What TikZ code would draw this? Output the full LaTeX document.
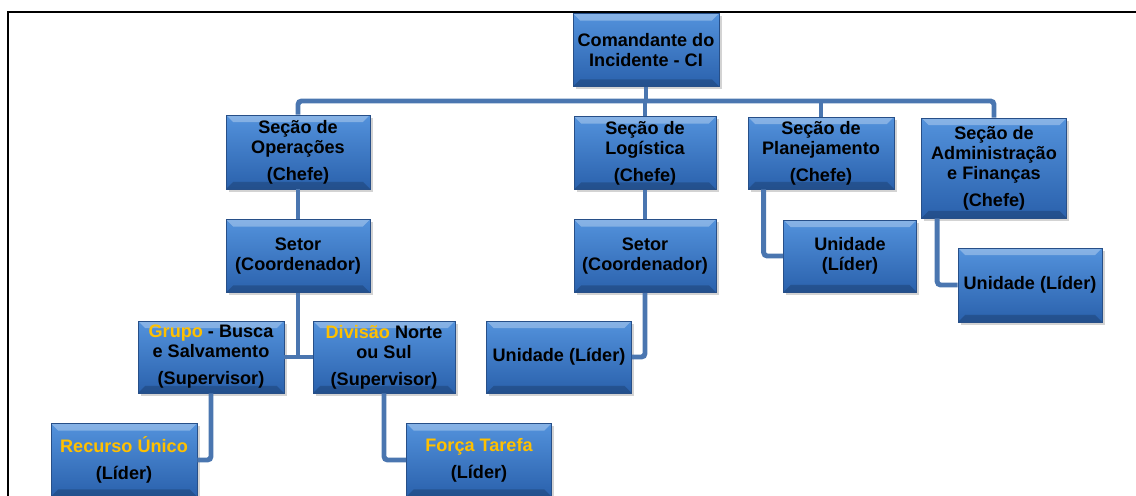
\documentclass[tikz,border=0pt]{standalone}
\usepackage{fontspec}
\setmainfont{Liberation Sans}
\usetikzlibrary{shadows}
\definecolor{boxtop}{HTML}{5392DC}
\definecolor{boxbot}{HTML}{2A61AC}
\definecolor{boxline}{HTML}{274F88}
\definecolor{linkblue}{HTML}{4A76B0}
\definecolor{gold}{HTML}{FFC000}
\begin{document}
\begin{tikzpicture}[x=0.02cm,y=-0.02cm]
        \tikzset{
          orgbox/.style={draw=boxline,line width=0.4pt,top color=boxtop,bottom color=boxbot,
            align=center,inner sep=1pt,
            font=\fontsize{10.3}{11.4}\selectfont\bfseries,
            drop shadow={shadow xshift=1.5pt,shadow yshift=-1.5pt,opacity=.35},
            path picture={
              \path (path picture bounding box.north west) coordinate (bnw)
                    (path picture bounding box.south east) coordinate (bse);
              \fill[white,opacity=.3] (bnw) -- (bnw -| bse) -- ++(-4pt,-4pt) -- ([shift={(4pt,-4pt)}]bnw) -- cycle;
              \fill[black,opacity=.18] (bse) -- (bse -| bnw) -- ++(4pt,4pt) -- ([shift={(-4pt,4pt)}]bse) -- cycle;
            }},
          link/.style={linkblue,line width=2.8pt,rounded corners=2pt},
        }
        \useasboundingbox (0,0) rectangle (1136,496);
        \clip (0,0) rectangle (1136,496);

        %FRAME
        \draw[line width=1.2pt] (8,496) -- (8,12) -- (1136,12);

        %TOP
        \node[orgbox,minimum width=2.92cm,minimum height=1.46cm] (ci) at (646,50) {Comandante do\\Incidente - CI};

        %SECTIONS
        \node[orgbox,minimum width=2.88cm,minimum height=1.48cm] (ops) at (298,152) {Seção de\\Operações\\[4pt](Chefe)};
        \node[orgbox,minimum width=2.84cm,minimum height=1.46cm] (log) at (645,153) {Seção de\\Logística\\[4pt](Chefe)};
        \node[orgbox,minimum width=2.92cm,minimum height=1.44cm] (plan) at (821,153) {Seção de\\Planejamento\\[4pt](Chefe)};
        \node[orgbox,minimum width=2.90cm,minimum height=2.00cm] (adm) at (994,168) {Seção de\\Administração\\e Finanças\\[4pt](Chefe)};

        %SECOND ROW
        \node[orgbox,minimum width=2.88cm,minimum height=1.46cm] (setop) at (298,256) {Setor\\(Coordenador)};
        \node[orgbox,minimum width=2.84cm,minimum height=1.46cm] (setlog) at (645,256) {Setor\\(Coordenador)};
        \node[orgbox,minimum width=2.66cm,minimum height=1.44cm] (unplan) at (850,256) {Unidade\\(Líder)};
        \node[orgbox,minimum width=2.88cm,minimum height=1.48cm] (unadm) at (1030,285) {Unidade (Líder)};

        %THIRD ROW
        \node[orgbox,minimum width=2.92cm,minimum height=1.44cm] (grp) at (211,357) {\textcolor{gold}{Grupo} - Busca\\e Salvamento\\[4pt](Supervisor)};
        \node[orgbox,minimum width=2.84cm,minimum height=1.44cm] (div) at (384,357) {\textcolor{gold}{Divisão} Norte\\ou Sul\\[4pt](Supervisor)};
        \node[orgbox,minimum width=2.90cm,minimum height=1.44cm] (unlog) at (559,357) {Unidade (Líder)};

        %BOTTOM ROW
        \node[orgbox,minimum width=2.92cm,minimum height=1.46cm] (rec) at (124,460) {\textcolor{gold}{Recurso Único}\\[4pt](Líder)};
        \node[orgbox,minimum width=2.90cm,minimum height=1.46cm] (ft) at (479,460) {\textcolor{gold}{Força Tarefa}\\[4pt](Líder)};

        %LINKS
        \coordinate (bus) at (646,101);
        \draw[link] (ci.south) -- (bus);
        \draw[link] (ops.north) |- (bus) -| (adm.north);
        \draw[link] (log.north) -- (log.north |- bus);
        \draw[link] (plan.north) -- (plan.north |- bus);
        \draw[link] (ops.south) -- (setop.north);
        \draw[link] (log.south) -- (setlog.north);
        \draw[link] ([xshift=0.32cm]plan.south west) |- (unplan.west);
        \draw[link] ([xshift=0.32cm]adm.south west) |- (unadm.west);
        \draw[link] (setop.south) -- (setop.south |- grp.east);
        \draw[link] (grp.east) -- (div.west);
        \draw[link] (setlog.south) |- (unlog.east);
        \draw[link] (grp.south) |- (rec.east);
        \draw[link] (div.south) |- (ft.west);
\end{tikzpicture}
\end{document}
